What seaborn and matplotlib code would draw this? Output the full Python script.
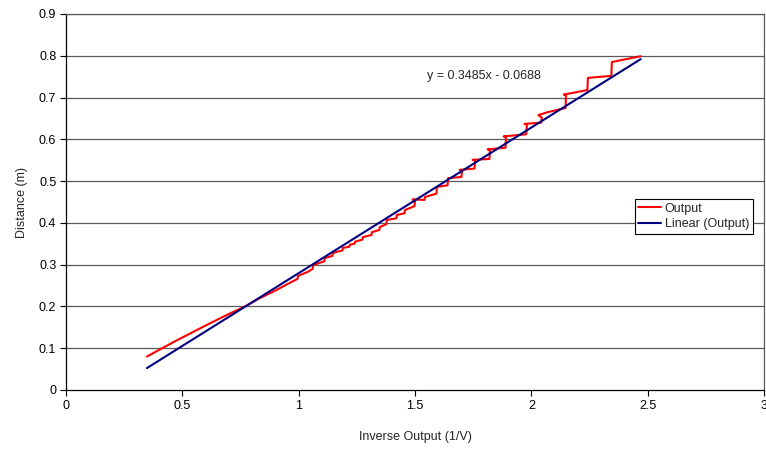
import matplotlib
matplotlib.use("Agg")
import matplotlib.pyplot as plt
import seaborn as sns
import numpy as np
import pandas as pd

# Data
inverse_output = [0.348, 0.40, 0.47, 0.55, 0.62, 0.70, 0.77, 0.83, 0.90, 0.96,
                  0.995, 0.997, 1.04, 1.060, 1.062, 1.11, 1.113, 1.145, 1.147,
                  1.188, 1.190, 1.218, 1.220, 1.240, 1.242, 1.274, 1.276,
                  1.313, 1.315, 1.347, 1.349, 1.377, 1.379, 1.420, 1.422,
                  1.455, 1.457, 1.498, 1.500, 1.490, 1.541, 1.543, 1.592, 1.594,
                  1.640, 1.642, 1.700, 1.702, 1.692, 1.756, 1.758, 1.748,
                  1.820, 1.822, 1.812, 1.889, 1.891, 1.881, 1.978, 1.981, 1.971,
                  2.043, 2.045, 2.030, 2.070, 2.147, 2.149, 2.139, 2.241, 2.243,
                  2.344, 2.346, 2.470]
distance = [0.080, 0.096, 0.117, 0.140, 0.160, 0.182, 0.200, 0.219, 0.238, 0.256,
            0.266, 0.273, 0.283, 0.290, 0.299, 0.308, 0.316, 0.321, 0.328,
            0.334, 0.340, 0.343, 0.348, 0.350, 0.355, 0.360, 0.366,
            0.371, 0.378, 0.383, 0.390, 0.397, 0.407, 0.411, 0.419,
            0.423, 0.431, 0.440, 0.455, 0.456, 0.455, 0.462, 0.470, 0.486,
            0.490, 0.507, 0.510, 0.526, 0.527, 0.530, 0.550, 0.551,
            0.553, 0.575, 0.576, 0.580, 0.606, 0.607, 0.612, 0.636, 0.637,
            0.640, 0.652, 0.658, 0.665, 0.675, 0.706, 0.707, 0.718, 0.747,
            0.752, 0.785, 0.799]

slope = 0.3485
intercept = -0.0688
equation_label = "y = 0.3485x - 0.0688"

x_ticks = [0, 0.5, 1, 1.5, 2, 2.5, 3]
x_tick_labels = ["0", "0.5", "1", "1.5", "2", "2.5", "3"]
y_ticks = [0, 0.1, 0.2, 0.3, 0.4, 0.5, 0.6, 0.7, 0.8, 0.9]
y_tick_labels = ["0", "0.1", "0.2", "0.3", "0.4", "0.5", "0.6", "0.7", "0.8", "0.9"]

sns.set_theme(style="white")
plt.rcParams["font.family"] = ["Liberation Sans", "DejaVu Sans"]

df = pd.DataFrame({"x": inverse_output, "y": distance})
xmin, xmax = min(inverse_output), max(inverse_output)
trend = pd.DataFrame({"x": [xmin, xmax],
                      "y": [slope * xmin + intercept, slope * xmax + intercept]})

fig = plt.figure(figsize=(7.66, 4.5), dpi=100)
ax = fig.add_axes([66 / 766, 60 / 450, 698 / 766, 376 / 450])

grid_col = "#5a5a5a"
for yt in y_ticks[1:]:
    ax.axhline(yt, color=grid_col, lw=0.9, zorder=0)

sns.lineplot(data=df, x="x", y="y", sort=False, estimator=None, ax=ax,
             color="#FF0000", lw=1.5, label="Output")
sns.lineplot(data=trend, x="x", y="y", sort=False, estimator=None, ax=ax,
             color="#000080", lw=1.5, label="Linear (Output)")

ax.set_xlim(0, 3)
ax.set_ylim(0, 0.9)
ax.set_xticks(x_ticks)
ax.set_xticklabels(x_tick_labels)
ax.set_yticks(y_ticks)
ax.set_yticklabels(y_tick_labels)
ax.tick_params(axis="both", which="both", direction="out", length=4, width=0.8,
               colors="black", labelsize=9, pad=3, bottom=True, left=True)

for side in ["left", "bottom"]:
    ax.spines[side].set_color("black")
    ax.spines[side].set_linewidth(0.9)
for side in ["top", "right"]:
    ax.spines[side].set_color(grid_col)
    ax.spines[side].set_linewidth(0.9)

ax.set_xlabel("Inverse Output (1/V)", fontsize=9, labelpad=14)
ax.set_ylabel("Distance (m)", fontsize=9, labelpad=8)

ax.text(1.551, 0.752, equation_label, fontsize=9, ha="left", va="center")

leg = ax.legend(loc="upper right", bbox_to_anchor=(0.984, 0.508), fontsize=9,
                frameon=True, fancybox=False, edgecolor="black", framealpha=1,
                handlelength=1.8, handletextpad=0.3, borderpad=0.3,
                labelspacing=0.3, borderaxespad=0)
leg.get_frame().set_linewidth(0.8)

fig.savefig("out.png", dpi=100)
